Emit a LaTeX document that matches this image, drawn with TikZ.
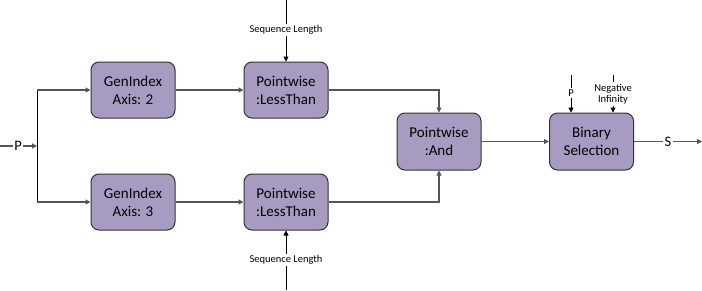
\documentclass[tikz,border=0pt]{standalone}
\usepackage{fontspec}
\setmainfont{Carlito}
\usetikzlibrary{arrows.meta}
\definecolor{boxfill}{RGB}{168,155,193}
\definecolor{boxline}{RGB}{50,50,55}
\definecolor{conn}{RGB}{85,85,85}
\begin{document}
\begin{tikzpicture}[x=1pt,y=-1pt,
  opbox/.style={draw=boxline,line width=1pt,fill=boxfill,rounded corners=8pt,
    minimum width=84pt,minimum height=56pt,align=center,
    font=\fontsize{15}{18}\selectfont,inner sep=0pt},
  lbl/.style={font=\fontsize{10.5}{12}\selectfont,inner sep=1.5pt,align=center},
  biglbl/.style={font=\fontsize{14.5}{16}\selectfont,inner sep=1.5pt},
  wire/.style={draw=conn,line width=1.1pt},
  bwire/.style={draw=black,line width=0.75pt},
  arr/.style={wire,-{Triangle[length=5pt,width=5pt]}},
  barr/.style={bwire,-{Triangle[length=5pt,width=5pt]}}
]
\useasboundingbox (0,0) rectangle (702,290);
% boxes
\node[opbox] (g2) at (133,90) {GenIndex\\Axis: 2};
\node[opbox] (lt1) at (286,90) {Pointwise\\:LessThan};
\node[opbox] (g3) at (133,202) {GenIndex\\Axis: 3};
\node[opbox] (lt2) at (286,202) {Pointwise\\:LessThan};
\node[opbox,minimum height=57pt] (and) at (439,141.5) {Pointwise\\:And};
\node[opbox,minimum height=57pt] (bs) at (591.5,141.5) {Binary\\Selection};
% input P
\coordinate (pin) at (0,146);
\node[biglbl] (P) at (18,146) {P};
\coordinate (j) at (37,146);
\coordinate (jt) at (37,90);
\coordinate (jb) at (37,202);
\draw[wire] (pin) -- (P);
\draw[arr] (P) -- (j);
\draw[bwire] (jt) -- (jb);
\draw[arr] (jt) -- (g2.west);
\draw[arr] (jb) -- (g3.west);
\draw[arr] (g2) -- (lt1);
\draw[arr] (g3) -- (lt2);
% sequence lengths
\coordinate (st) at (286,0);
\node[lbl] (sl1) at (286,30) {Sequence Length};
\draw[bwire] (st) -- (sl1);
\draw[barr] (sl1) -- (lt1.north);
\coordinate (sb) at (286,290);
\node[lbl] (sl2) at (286,260) {Sequence Length};
\draw[bwire] (sb) -- (sl2);
\draw[barr] (sl2) -- (lt2.south);
% to And
\draw[arr] (lt1.east) -| (and.north);
\draw[arr] (lt2.east) -| (and.south);
\draw[arr] (and) -- (bs);
% inputs to binary selection
\coordinate (pt) at (571,75);
\node[lbl] (P2) at (571,93) {P};
\draw[bwire] (pt) -- (P2);
\draw[barr] (P2) -- (pt |- bs.north);
\coordinate (nt) at (613,75);
\node[lbl,font=\fontsize{10.5}{11.5}\selectfont] (ni) at (613,94) {Negative\\Infinity};
\draw[bwire] (nt) -- (ni);
\draw[barr] (ni) -- (nt |- bs.north);
% output S
\node[biglbl] (S) at (668,141.5) {S};
\coordinate (send) at (702,141.5);
\draw[wire] (bs.east) -- (S);
\draw[arr] (S) -- (send);
\end{tikzpicture}
\end{document}
